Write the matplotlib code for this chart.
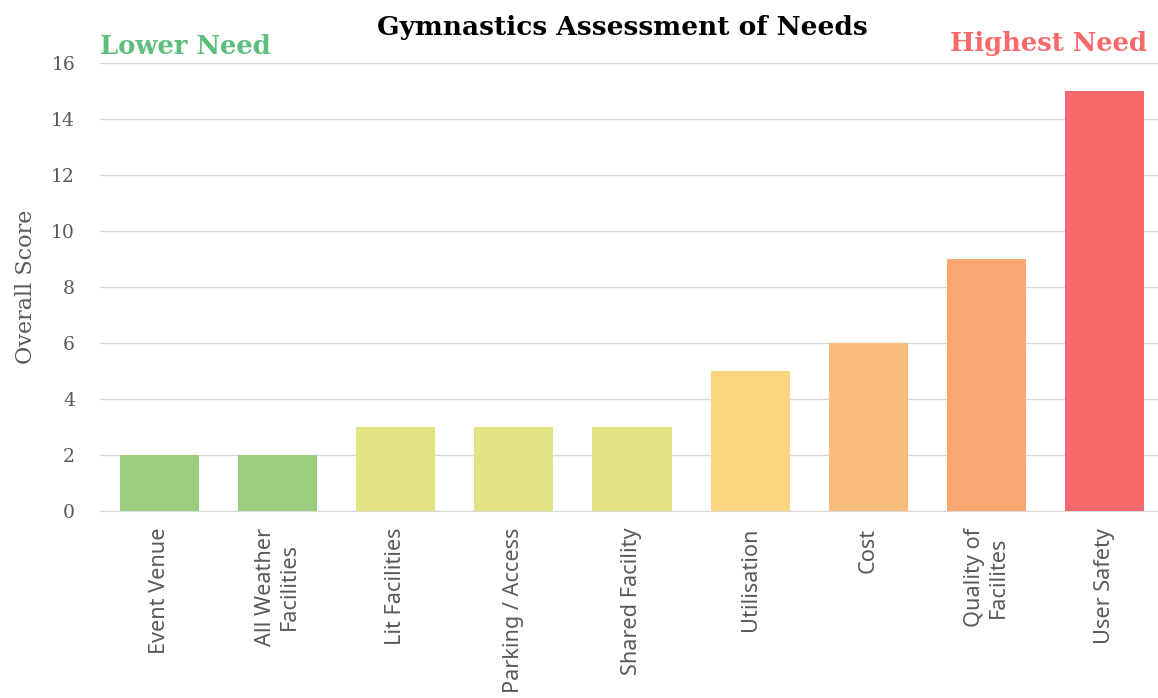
import matplotlib
matplotlib.use('Agg')
import matplotlib.pyplot as plt

categories = ['Event Venue', 'All Weather\nFacilities', 'Lit Facilities',
              'Parking / Access', 'Shared Facility', 'Utilisation', 'Cost',
              'Quality of\nFacilites', 'User Safety']
scores = [2, 2, 3, 3, 3, 5, 6, 9, 15]
bar_colors = ['#98CE7D', '#98CE7D', '#E3E384', '#E3E384', '#E3E384',
              '#FDD47F', '#FABC7A', '#F9A873', '#F8696B']
y_ticks = [0, 2, 4, 6, 8, 10, 12, 14, 16]

serif = ['DejaVu Serif']
fig = plt.figure(figsize=(11.58, 6.98), dpi=100)
ax = fig.add_axes([100 / 1158, 1 - 511 / 698, 1058 / 1158, 448 / 698])

x = range(len(categories))
ax.bar(x, scores, width=0.67, color=bar_colors, zorder=3)
ax.set_xlim(-0.5, 8.45)
ax.set_ylim(0, 16)
ax.set_yticks(y_ticks)
ax.set_yticklabels([str(t) for t in y_ticks], family=serif, fontsize=13.5, color='#595959')
ax.set_xticks(list(x))
ax.set_xticklabels(categories, rotation=90, family='Noto Sans', fontsize=15.6,
                   color='#595959', ha='center', va='top', multialignment='center',
                   linespacing=1.15)
ax.tick_params(axis='both', length=0)
ax.tick_params(axis='y', pad=18)
ax.tick_params(axis='x', pad=12)
ax.grid(axis='y', color='#D9D9D9', linewidth=1, zorder=0)
for s in ['top', 'right', 'left']:
    ax.spines[s].set_visible(False)
ax.spines['bottom'].set_color('#D9D9D9')
ax.set_ylabel('Overall Score', family=serif, fontsize=16, color='#595959', labelpad=10)

fig.text(622 / 1158, 1 - 27 / 698, 'Gymnastics Assessment of Needs', family=serif,
         fontsize=19, fontweight='bold', ha='center', va='center')
fig.text(100 / 1158, 1 - 46 / 698, 'Lower Need', family=serif, fontsize=18.5,
         fontweight='bold', color='#5DBE7D', ha='left', va='center')
fig.text(1147 / 1158, 1 - 43 / 698, 'Highest Need', family=serif, fontsize=18.5,
         fontweight='bold', color='#F8696B', ha='right', va='center')

fig.savefig('out.png', dpi=100)
